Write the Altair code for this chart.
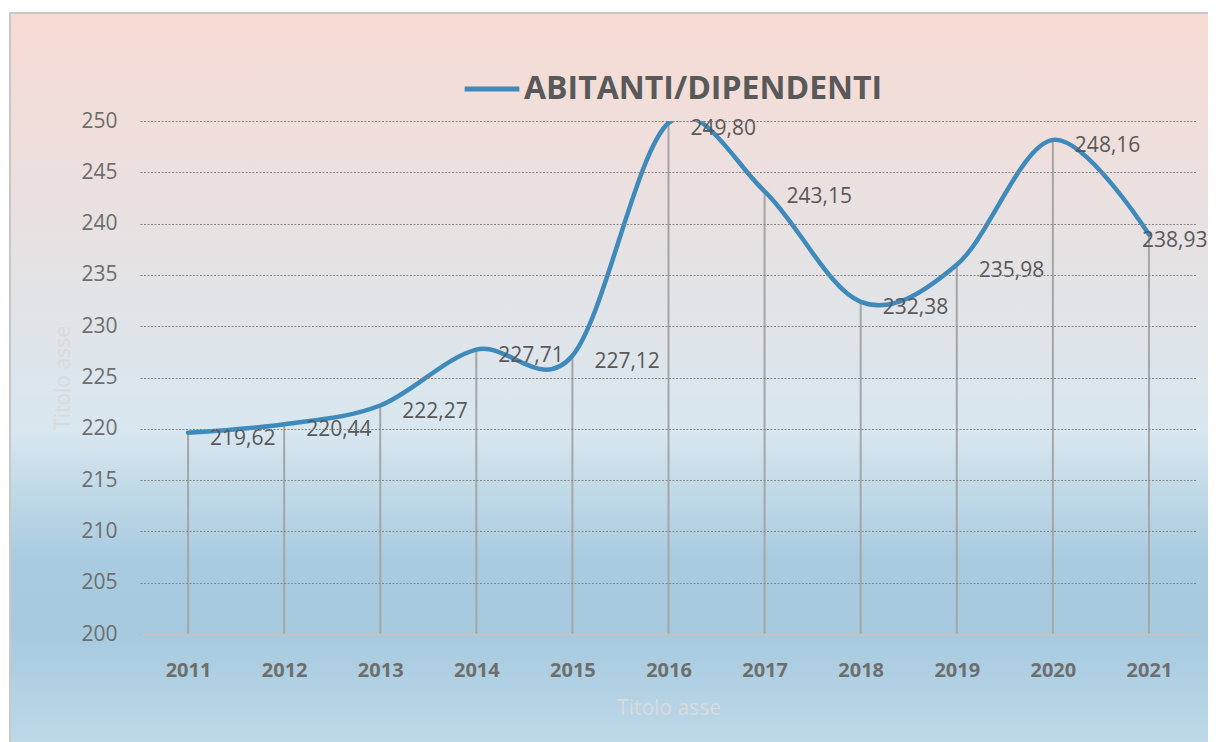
import altair as alt
import pandas as pd

years = ["2011", "2012", "2013", "2014", "2015", "2016", "2017", "2018", "2019", "2020", "2021"]
values = [219.62, 220.44, 222.27, 227.71, 227.12, 249.80, 243.15, 232.38, 235.98, 248.16, 238.93]
series_name = "ABITANTI/DIPENDENTI"
y_ticks = [200, 205, 210, 215, 220, 225, 230, 235, 240, 245, 250]
axis_title = "Titolo asse"

df = pd.DataFrame({
    "anno": years,
    "valore": values,
    "base": [200] * len(years),
    "serie": [series_name] * len(years),
    "etichetta": [f"{v:.2f}".replace(".", ",") for v in values],
})
last_year = years[-1]

W, H = 1057, 513
FONT = "Open Sans"

gradient = alt.Gradient(
    gradient="linear",
    x1=0, x2=0, y1=0, y2=1,
    stops=[
        alt.GradientStop(offset=0.0, color="#f8dbd3"),
        alt.GradientStop(offset=0.17, color="#efdfdc"),
        alt.GradientStop(offset=0.40, color="#e1e4e8"),
        alt.GradientStop(offset=0.56, color="#d8e7f0"),
        alt.GradientStop(offset=0.63, color="#c3dbe8"),
        alt.GradientStop(offset=0.73, color="#a9cbe0"),
        alt.GradientStop(offset=0.83, color="#a7cadf"),
        alt.GradientStop(offset=0.92, color="#b4d3e5"),
        alt.GradientStop(offset=1.0, color="#c3dcea"),
    ],
)

x_enc = alt.X(
    "anno:N",
    scale=alt.Scale(type="point", padding=0.5),
    axis=alt.Axis(
        title=axis_title,
        labelAngle=0,
        labelFont=FONT, labelFontSize=20, labelFontWeight="bold", labelColor="#6e6e6e",
        labelPadding=26,
        ticks=False,
        domain=True, domainColor="#c4c4c4", domainWidth=2,
        grid=False,
        titleFont=FONT, titleFontSize=21, titleFontWeight="normal", titleColor="#dadada",
        titlePadding=17,
        zindex=1,
    ),
)

y_scale = alt.Scale(domain=[200, 250], nice=False, zero=False)

bg = alt.Chart(pd.DataFrame({"a": [0]})).mark_rect(
    fill=gradient, stroke="#c8c8c8", strokeWidth=2, clip=False
).encode(
    x=alt.value(-130), x2=alt.value(1090), y=alt.value(-108), y2=alt.value(640)
)

base = alt.Chart(df)

drops = base.mark_rule(color="#a6a6a6", strokeWidth=2).encode(
    x=x_enc,
    y=alt.Y(
        "valore:Q",
        scale=y_scale,
        axis=alt.Axis(
            title=axis_title,
            values=y_ticks,
            labelFont=FONT, labelFontSize=21, labelColor="#6e6e6e",
            labelPadding=23,
            ticks=False, domain=False,
            grid=True, gridColor="#868686", gridDash=[2, 1.5], gridWidth=1,
            titleFont=FONT, titleFontSize=21, titleFontWeight="normal", titleColor="#dadada",
            titlePadding=7,
            zindex=1,
        ),
    ),
    y2="base:Q",
)

line = base.mark_line(
    interpolate="cardinal", tension=0, strokeWidth=4.5, clip=True, strokeCap="round"
).encode(
    x=x_enc,
    y=alt.Y("valore:Q", scale=y_scale),
    color=alt.Color(
        "serie:N",
        scale=alt.Scale(range=["#3f8abd"]),
        legend=alt.Legend(
            orient="none", legendX=322, legendY=-62, title=None,
            symbolType="stroke", symbolStrokeWidth=5, symbolSize=3000,
            labelFont=FONT, labelFontSize=32, labelFontWeight="bold", labelColor="#595959",
            labelOffset=2, labelLimit=700,
        ),
    ),
)

labels = base.mark_text(
    align="left", baseline="middle", dx=22, dy=6,
    font=FONT, fontSize=21, color="#595959",
).encode(
    x=x_enc,
    y=alt.Y("valore:Q", scale=y_scale),
    text="etichetta:N",
).transform_filter(alt.datum.anno != last_year)

last_label = base.mark_text(
    align="left", baseline="middle", dx=-7, dy=6,
    font=FONT, fontSize=21, color="#595959",
).encode(
    x=x_enc,
    y=alt.Y("valore:Q", scale=y_scale),
    text="etichetta:N",
).transform_filter(alt.datum.anno == last_year)

chart = alt.layer(bg, drops, line, labels, last_label).properties(
    width=W, height=H,
    autosize=alt.AutoSizeParams(type="none"),
    padding={"left": 132, "top": 113, "right": 11, "bottom": 110},
).configure_view(stroke=None).configure(background="white")

chart.save("out.html", embed_options={"renderer": "svg", "actions": False})
